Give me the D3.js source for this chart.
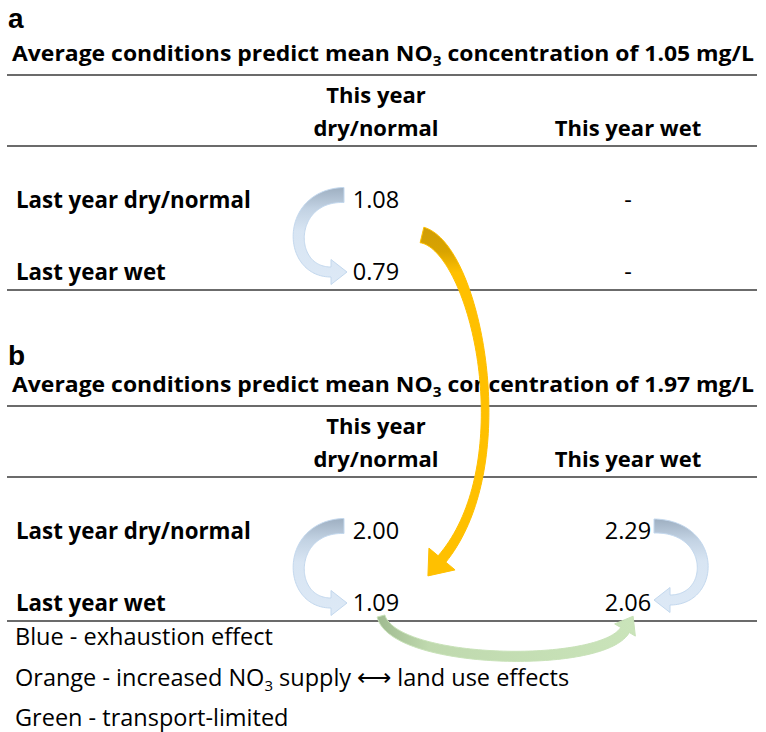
<!DOCTYPE html>
<html>
<script src="https://d3js.org/d3.v7.min.js"></script>
<head>
  <title>NO3 concentration tables</title>
  <style>
    body { margin: 0; background: #fff; }
  </style>
</head>
<body>
  <div id="canvas"></div>

  <script>
    // ---- data ----
    var panels = ["a", "b"];
    var meanConc = [1.05, 1.97];
    var columns = ["This year dry/normal", "This year wet"];
    var headerLines = [["This year", "dry/normal"], ["", "This year wet"]];
    var rows = ["Last year dry/normal", "Last year wet"];
    var valuesA = [[1.08, null], [0.79, null]];
    var valuesB = [[2.00, 2.29], [1.09, 2.06]];
    var legendItems = [
      ["Blue - exhaustion effect"],
      ["Orange - increased NO", "3", " supply \u27F7  land use effects"],
      ["Green - transport-limited"]
    ];
    // arrows go from one table cell to another: [panel, row, column]
    var arrows = [
      { effect: "blue",   from: ["a", 0, 0], to: ["a", 1, 0] },
      { effect: "orange", from: ["a", 0, 0], to: ["b", 1, 0] },
      { effect: "blue",   from: ["b", 0, 0], to: ["b", 1, 0] },
      { effect: "blue-r", from: ["b", 0, 1], to: ["b", 1, 1] },
      { effect: "green",  from: ["b", 1, 0], to: ["b", 1, 1] }
    ];

    var width = 766, height = 732;
    var font = "'Open Sans', Lato, sans-serif";

    var svg = d3.select("#canvas")
      .append("svg")
        .attr("width", width)
        .attr("height", height);

    // Scales
    var x = d3.scaleBand()
      .domain(columns)
      .range([250, 754]);
    var panelTop = d3.scaleOrdinal()
      .domain(panels)
      .range([0, 331]);
    var y = d3.scalePoint()
      .domain(rows)
      .range([200, 272]);
    var fmt = d3.format(".2f");

    function cellX(c) { return x(columns[c]) + x.bandwidth() / 2; }
    function cellY(p, r) { return panelTop(p) + y(rows[r]); }

    var tableLeft = 7, tableRight = 757;

    panels.forEach(function(p, i) {
      var top = panelTop(p);
      var g = svg.append("g");
      var vals = i === 0 ? valuesA : valuesB;

      // panel letter
      g.append("text")
        .text(p)
          .attr("x", 8)
          .attr("y", top + 28 + (i === 1 ? 6 : 0))
          .style("font-family", "'Liberation Sans', Arial, sans-serif")
          .style("font-weight", "bold")
          .style("font-size", "28px");

      // title with subscript
      var t = g.append("text")
          .attr("x", 12)
          .attr("y", top + 61)
          .attr("textLength", 742)
          .attr("lengthAdjust", "spacingAndGlyphs")
          .style("font-family", font)
          .style("font-weight", "bold")
          .style("font-size", "21px");
      t.append("tspan").text("Average conditions predict mean NO");
      t.append("tspan").text("3").attr("dy", 5).style("font-size", "14px");
      t.append("tspan").text(" concentration of " + fmt(meanConc[i]) + " mg/L").attr("dy", -5);

      // rules
      [75, 146, 290].forEach(function(ly) {
        g.append("line")
          .attr("x1", tableLeft).attr("x2", tableRight)
          .attr("y1", top + ly).attr("y2", top + ly)
          .attr("stroke", "#3a3a3a")
          .attr("stroke-width", 1.6);
      });

      // column headers
      columns.forEach(function(c, ci) {
        headerLines[ci].forEach(function(line, li) {
          g.append("text")
            .text(line)
              .attr("x", cellX(ci))
              .attr("y", top + 103 + li * 33)
              .attr("text-anchor", "middle")
              .style("font-family", font)
              .style("font-weight", "bold")
              .style("font-size", "22px");
        });
      });

      // row labels and values
      rows.forEach(function(r, ri) {
        g.append("text")
          .text(r)
            .attr("x", 16)
            .attr("y", cellY(p, ri) + 8)
            .style("font-family", font)
            .style("font-weight", "bold")
            .style("font-size", "22.3px");
        vals[ri].forEach(function(v, ci) {
          g.append("text")
            .text(v === null ? "-" : fmt(v))
              .attr("x", cellX(ci))
              .attr("y", cellY(p, ri) + 8)
              .attr("text-anchor", "middle")
              .style("font-family", font)
              .style("font-size", "23.5px");
        });
      });
    });

    // legend
    legendItems.forEach(function(item, i) {
      var t = svg.append("text")
          .attr("x", 15)
          .attr("y", 645 + i * 40.5)
          .style("font-family", font)
          .style("font-size", "23.5px");
      t.append("tspan").text(item[0]);
      if (item.length > 1) {
        t.append("tspan").text(item[1]).attr("dy", 5).style("font-size", "15px");
        t.append("tspan").text(item[2]).attr("dy", -5);
      }
    });

    // ---- curved block arrows ----
    var defs = svg.append("defs");
    function grad(id, x2, y2, stops) {
      var lg = defs.append("linearGradient")
        .attr("id", id)
        .attr("x1", 0).attr("y1", 0).attr("x2", x2).attr("y2", y2);
      stops.forEach(function(s) {
        lg.append("stop").attr("offset", s[0]).attr("stop-color", s[1]);
      });
    }
    grad("gBlue", 0, 1, [[0, "#9eafc1"], [0.22, "#c2d2e3"], [0.45, "#d8e5f3"], [1, "#dde9f6"]]);
    grad("gOrange", 0, 1, [[0, "#cf9c06"], [0.07, "#d9a400"], [0.13, "#ffc000"], [1, "#ffc000"]]);
    grad("gGreen", 1, 0, [[0, "#9fba90"], [0.2, "#bfd9ae"], [1, "#cae4ba"]]);

    function bez(p, t) {
      var u = 1 - t;
      return [
        u*u*u*p[0][0] + 3*u*u*t*p[1][0] + 3*u*t*t*p[2][0] + t*t*t*p[3][0],
        u*u*u*p[0][1] + 3*u*u*t*p[1][1] + 3*u*t*t*p[2][1] + t*t*t*p[3][1]
      ];
    }
    function bezD(p, t) {
      var u = 1 - t;
      return [
        3*u*u*(p[1][0]-p[0][0]) + 6*u*t*(p[2][0]-p[1][0]) + 3*t*t*(p[3][0]-p[2][0]),
        3*u*u*(p[1][1]-p[0][1]) + 6*u*t*(p[2][1]-p[1][1]) + 3*t*t*(p[3][1]-p[2][1])
      ];
    }
    function arrowShape(p, w0, wm, w1, headW, headL) {
      var n = 80, left = [], right = [];
      for (var k = 0; k <= n; k++) {
        var t = k / n, pt = bez(p, t), d = bezD(p, t);
        var len = Math.hypot(d[0], d[1]);
        var nx = -d[1] / len, ny = d[0] / len;
        var w = (w0*(1-t)*(1-t) + wm*2*t*(1-t) + w1*t*t) / 2;
        left.push([pt[0] + nx*w, pt[1] + ny*w]);
        right.push([pt[0] - nx*w, pt[1] - ny*w]);
      }
      var end = p[3], de = bezD(p, 1), le = Math.hypot(de[0], de[1]);
      var ux = de[0]/le, uy = de[1]/le, nx2 = -uy, ny2 = ux;
      var tip = [end[0] + ux*headL, end[1] + uy*headL];
      var pts = left.concat([
        [end[0] + nx2*headW/2, end[1] + ny2*headW/2],
        tip,
        [end[0] - nx2*headW/2, end[1] - ny2*headW/2]
      ]).concat(right.reverse());
      return d3.line()(pts) + "Z";
    }

    var arrowLayer = svg.append("g");
    arrows.forEach(function(a) {
      var fx = cellX(a.from[2]), fy = cellY(a.from[0], a.from[1]);
      var tx = cellX(a.to[2]),   ty = cellY(a.to[0], a.to[1]);
      var pts, d, fill, stroke;
      if (a.effect === "blue") {
        pts = [[fx - 32, fy - 5], [fx - 90, fy - 5], [fx - 90, ty], [fx - 45, ty]];
        d = arrowShape(pts, 15, 10, 10, 25, 16);
        fill = "url(#gBlue)"; stroke = "#c3d8ee";
      } else if (a.effect === "blue-r") {
        pts = [[fx + 26, fy - 5], [fx + 88, fy - 5], [fx + 88, ty - 3], [fx + 42, ty - 3]];
        d = arrowShape(pts, 14, 10, 10, 25, 16);
        fill = "url(#gBlue)"; stroke = "#c3d8ee";
      } else if (a.effect === "orange") {
        pts = [[fx + 46, fy + 35], [fx + 100, fy + 48], [fx + 146, ty - 140], [fx + 66, ty - 44]];
        d = arrowShape(pts, 16, 3, 10, 34, 22);
        fill = "url(#gOrange)"; stroke = "#ffc000";
      } else {
        pts = [[fx + 5, fy + 13], [fx + 18, fy + 62], [tx - 26, ty + 66], [tx - 3, ty + 27]];
        d = arrowShape(pts, 8, 11, 10, 24, 16);
        fill = "url(#gGreen)"; stroke = "#c8e2b8";
      }
      arrowLayer.append("path")
        .attr("d", d)
        .attr("fill", fill)
        .attr("stroke", stroke)
        .attr("stroke-width", 1)
        .attr("stroke-linejoin", "round");
    });
  </script>
</body>
</html>
